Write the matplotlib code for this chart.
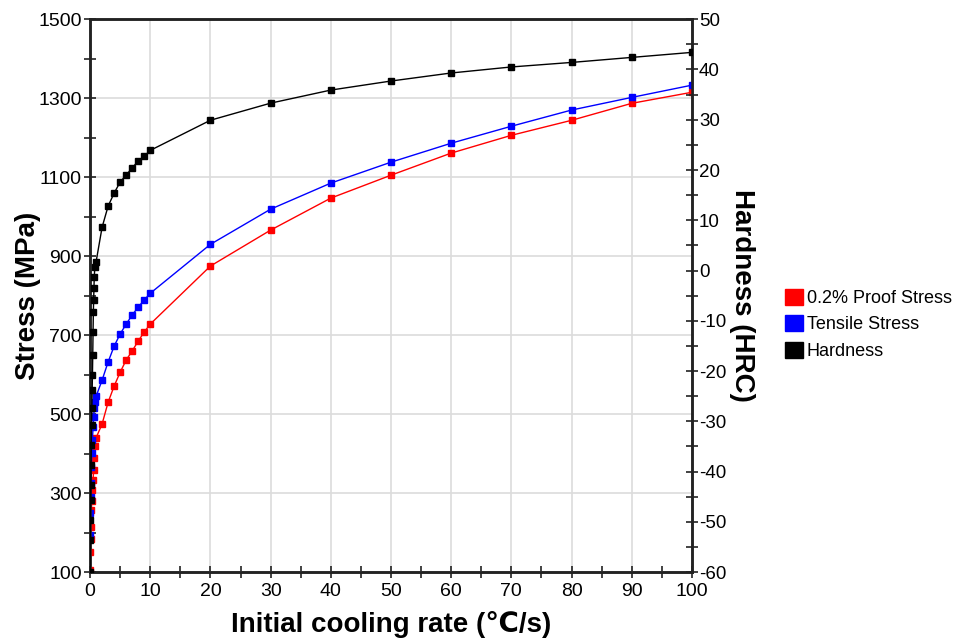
import matplotlib
matplotlib.use("Agg")
import matplotlib.pyplot as plt
from matplotlib.patches import Patch
from matplotlib import font_manager

names = {f.name for f in font_manager.fontManager.ttflist}
narrow = 'Liberation Sans Narrow' if 'Liberation Sans Narrow' in names else 'Liberation Sans'
plt.rcParams['font.family'] = [narrow, 'DejaVu Sans']
plt.rcParams['axes.unicode_minus'] = False

# Cooling rate (°C/s)
rate_low = [0, 0.05, 0.1, 0.15, 0.2, 0.3, 0.4, 0.5, 0.6, 0.7, 0.8, 1.0]
rate_high = [2, 3, 4, 5, 6, 7, 8, 9, 10, 20, 30, 40, 50, 60, 70, 80, 90, 100]

proof_low = [105, 150, 185, 214, 257, 280, 308, 333, 358, 389, 420, 440]
proof_high = [475, 530, 571, 606, 637, 660, 685, 708, 728, 875, 966, 1047, 1105, 1161, 1206, 1244, 1287, 1315]

tensile_low = [194, 249, 290, 325, 365, 401, 434, 467, 492, 515, 530, 545]
tensile_high = [586, 632, 672, 703, 728, 751, 771, 789, 806, 930, 1019, 1085, 1138, 1186, 1229, 1270, 1302, 1333]

hard_rate_low = [0, 0.03, 0.06, 0.1, 0.13, 0.16, 0.2, 0.25, 0.3, 0.35, 0.4, 0.45, 0.5, 0.55, 0.6, 0.65, 0.7, 0.8, 1.0]
hard_low = [-60.0, -53.6, -49.7, -45.7, -42.7, -38.7, -34.7, -30.8, -27.4, -23.8, -20.8, -16.8, -12.3, -8.3, -5.9, -3.5, -1.3, 0.7, 1.7]
hard_high = [8.6, 12.8, 15.4, 17.6, 19.0, 20.4, 21.8, 22.7, 23.9, 29.9, 33.3, 35.9, 37.7, 39.3, 40.5, 41.4, 42.4, 43.4]

rate = rate_low + rate_high
proof = proof_low + proof_high
tensile = tensile_low + tensile_high
hard_rate = hard_rate_low + rate_high
hard = hard_low + hard_high

fig = plt.figure(figsize=(9.63, 6.40), dpi=100)
ax = fig.add_axes([0.0935, 0.106, 0.625, 0.864])
ax2 = ax.twinx()

ax.plot(rate, proof, color='#ff0000', lw=1.0, marker='s', ms=4.5, zorder=3)
ax.plot(rate, tensile, color='#0000ff', lw=1.0, marker='s', ms=4.5, zorder=3)
ax2.plot(hard_rate, hard, color='#000000', lw=1.0, marker='s', ms=4.5, zorder=3)

ax.set_xlim(0, 100)
ax.set_ylim(100, 1500)
ax2.set_ylim(-60, 50)

ax.set_xticks(range(0, 101, 10))
ax.set_xticks(range(0, 101, 5), minor=True)
ax.set_yticks(range(100, 1501, 200))
ax.set_yticks(range(100, 1501, 100), minor=True)
ax2.set_yticks(range(-60, 51, 10))
ax2.set_yticks(range(-60, 51, 5), minor=True)

ax.grid(True, which='major', color='#dcdcdc', lw=1.2)
ax.set_axisbelow(True)

for a in (ax, ax2):
    for s in a.spines.values():
        s.set_linewidth(1.8)
        s.set_color('#222222')
ax.tick_params(which='both', direction='inout', length=8, width=1.2, labelsize=14, color='#222222')
ax2.tick_params(which='both', direction='inout', length=8, width=1.2, labelsize=13.5, color='#222222')
ax.tick_params(axis='y', pad=2)
ax2.tick_params(axis='y', pad=1)

ax.set_xlabel('Initial cooling rate (\u2103/s)', fontsize=20, fontweight='bold', labelpad=8)
ax.set_ylabel('Stress (MPa)', fontsize=20, fontweight='bold', labelpad=-2)
ax2.set_ylabel('Hardness (HRC)', fontsize=20, fontweight='bold', rotation=-90, labelpad=21)

handles = [Patch(facecolor='#ff0000', edgecolor='#ff0000'),
           Patch(facecolor='#0000ff', edgecolor='#0000ff'),
           Patch(facecolor='#000000', edgecolor='#000000')]
labels = ['0.2% Proof Stress', 'Tensile Stress', 'Hardness']
fig.legend(handles, labels, loc='upper left', bbox_to_anchor=(0.808, 0.56),
           frameon=False, fontsize=13, handlelength=1.0, handleheight=1.0,
           handletextpad=0.2, labelspacing=0.45, borderaxespad=0)

fig.savefig('out.png', dpi=100)
